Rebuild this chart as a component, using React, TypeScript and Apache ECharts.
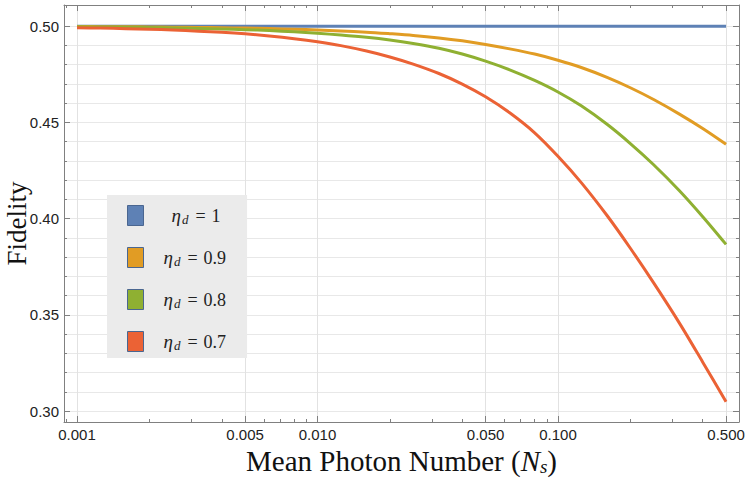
import React, { useEffect, useRef } from "react";
import * as echarts from "echarts";

// Mean photon number N_s (log axis)
const photonNumbers = [0.001, 0.00125, 0.0016, 0.002, 0.0025, 0.0032, 0.004, 0.005, 0.0063, 0.008, 0.01, 0.0125, 0.016, 0.02, 0.025, 0.032, 0.04, 0.05, 0.063, 0.08, 0.1, 0.125, 0.16, 0.2, 0.25, 0.32, 0.4, 0.5];

// Fidelity for each detector efficiency eta_d
const fidelityEta10 = [0.5, 0.5, 0.5, 0.5, 0.5, 0.5, 0.5, 0.5, 0.5, 0.5, 0.5, 0.5, 0.5, 0.5, 0.5, 0.5, 0.5, 0.5, 0.5, 0.5, 0.5, 0.5, 0.5, 0.5, 0.5, 0.5, 0.5, 0.5];
const fidelityEta09 = [0.4998, 0.49975, 0.49968, 0.4996, 0.4995, 0.49936, 0.4992, 0.499, 0.49874, 0.4984, 0.498, 0.4975, 0.4969, 0.4961, 0.4952, 0.4939, 0.4924, 0.4905, 0.4882, 0.4855, 0.4823, 0.4785, 0.4734, 0.468, 0.4619, 0.4543, 0.4468, 0.4386];
const fidelityEta08 = [0.49965, 0.49956, 0.49944, 0.4993, 0.4991, 0.49885, 0.49856, 0.4982, 0.4977, 0.4971, 0.4963, 0.4954, 0.4942, 0.4928, 0.491, 0.4885, 0.4855, 0.4818, 0.4773, 0.4718, 0.4658, 0.4586, 0.449, 0.439, 0.428, 0.4145, 0.401, 0.3866];
const fidelityEta07 = [0.4992, 0.499, 0.4987, 0.4984, 0.498, 0.4974, 0.4968, 0.496, 0.4949, 0.4935, 0.4919, 0.4899, 0.4871, 0.484, 0.4803, 0.4754, 0.4699, 0.4633, 0.455, 0.4446, 0.4324, 0.4187, 0.4016, 0.3846, 0.3666, 0.3457, 0.3254, 0.3048];

const seriesNames = ["η_d = 1", "η_d = 0.9", "η_d = 0.8", "η_d = 0.7"];
const seriesColors = ["#5E81B5", "#E19C24", "#8FB032", "#EB6235"];

// Ticks
const xMajorTicks = [0.001, 0.005, 0.01, 0.05, 0.1, 0.5];
const xMinorTicks = [0.0009, 0.002, 0.003, 0.004, 0.006, 0.007, 0.008, 0.009, 0.02, 0.03, 0.04, 0.06, 0.07, 0.08, 0.09, 0.2, 0.3, 0.4];
const yMajorTicks = [0.3, 0.35, 0.4, 0.45, 0.5];
const yMinorTicks = [0.3, 0.31, 0.32, 0.33, 0.34, 0.35, 0.36, 0.37, 0.38, 0.39, 0.4, 0.41, 0.42, 0.43, 0.44, 0.45, 0.46, 0.47, 0.48, 0.49, 0.5];

const xMin = 0.000883;
const xMax = 0.566;
const yMin = 0.2943;
const yMax = 0.511;

const frameColor = "#808080";
const labelFont = "'Liberation Sans', Arial, sans-serif";
const serifFont = "'Liberation Serif', 'Times New Roman', serif";

export default function App() {
  const ref = useRef<HTMLDivElement>(null);

  useEffect(() => {
    if (!ref.current) return;
    document.body.style.margin = "0";
    const chart = echarts.init(ref.current, undefined, { renderer: "svg" });

    const allSeries = [fidelityEta10, fidelityEta09, fidelityEta08, fidelityEta07];

    const xAxisBase = (position: string) => ({
      type: "log" as const,
      logBase: 10,
      min: xMin,
      max: xMax,
      position,
      axisLine: { show: false },
      axisLabel: { show: false },
      splitLine: { show: false },
      axisPointer: { show: false },
    });
    const yAxisBase = (position: string) => ({
      type: "value" as const,
      min: yMin,
      max: yMax,
      position,
      axisLine: { show: false },
      axisLabel: { show: false },
      splitLine: { show: false },
    });

    const option = {
      animation: false,
      backgroundColor: "#ffffff",
      grid: { left: 64, right: 8, top: 5, bottom: 56, containLabel: false, outerBoundsMode: "none" },
      legend: {
        orient: "vertical",
        left: 107,
        top: 195,
        padding: [10, 21, 6, 20],
        backgroundColor: "#ebebeb",
        itemGap: 21,
        itemWidth: 16,
        itemHeight: 20,
        icon: "rect",
        lineStyle: { width: 0, opacity: 0 },
        itemStyle: { borderColor: "#4a6690", borderWidth: 1 },
        data: seriesNames,
        formatter: (name: string) => {
          const val = name.split("= ")[1];
          const eStyle = val.length === 1 ? "e1" : "e";
          return `{${eStyle}|η}{s|d}{q|=}{t|${val}}`;
        },
        textStyle: {
          color: "#222",
          fontFamily: serifFont,
          fontSize: 18,
          lineHeight: 20,
          rich: {
            e: { fontFamily: serifFont, fontStyle: "italic", fontSize: 19, color: "#222", padding: [0, 0, 0, 15] },
            e1: { fontFamily: serifFont, fontStyle: "italic", fontSize: 19, color: "#222", padding: [0, 0, 0, 23] },
            s: { fontFamily: serifFont, fontStyle: "italic", fontSize: 13, color: "#222", padding: [8, 0, 0, 1] },
            q: { fontFamily: serifFont, fontSize: 18, color: "#222", padding: [0, 6, 0, 7] },
            t: { fontFamily: serifFont, fontSize: 18, color: "#222" },
          },
        },
      },
      xAxis: [
        {
          ...xAxisBase("bottom"),
          axisLine: { show: true, lineStyle: { color: frameColor, width: 1 } },
          axisTick: { show: true, inside: true, length: 6, customValues: xMajorTicks, lineStyle: { color: frameColor } },
          axisLabel: {
            show: true,
            customValues: xMajorTicks,
            formatter: (v: number) => v.toFixed(3),
            margin: 5,
            fontSize: 15,
            fontFamily: labelFont,
            color: "#222",
          },
          splitLine: { show: true, lineStyle: { color: "#e2e2e2", width: 1 } },
          name: "Mean Photon Number ({i|N}{s|s})",
          nameLocation: "middle",
          nameGap: 24,
          nameTextStyle: {
            fontFamily: serifFont,
            fontSize: 29,
            color: "#111",
            rich: {
              i: { fontFamily: serifFont, fontStyle: "italic", fontSize: 29, color: "#111" },
              s: { fontFamily: serifFont, fontStyle: "italic", fontSize: 19, color: "#111", padding: [10, 0, 0, 0] },
            },
          },
        },
        {
          ...xAxisBase("bottom"),
          axisTick: { show: true, inside: true, length: 3, customValues: xMinorTicks, lineStyle: { color: frameColor } },
        },
        {
          ...xAxisBase("top"),
          axisLine: { show: true, lineStyle: { color: frameColor, width: 1 } },
          axisTick: { show: true, inside: true, length: 6, customValues: xMajorTicks, lineStyle: { color: frameColor } },
        },
        {
          ...xAxisBase("top"),
          axisTick: { show: true, inside: true, length: 3, customValues: xMinorTicks, lineStyle: { color: frameColor } },
        },
      ],
      yAxis: [
        {
          ...yAxisBase("left"),
          axisLine: { show: true, lineStyle: { color: frameColor, width: 1 } },
          axisTick: { show: true, inside: true, length: 3, customValues: yMinorTicks, lineStyle: { color: frameColor } },
          axisLabel: {
            show: true,
            customValues: yMajorTicks,
            formatter: (v: number) => v.toFixed(2),
            margin: 5,
            fontSize: 15,
            fontFamily: labelFont,
            color: "#222",
          },
          splitLine: { show: true, lineStyle: { color: "#e8e8e8", width: 1 } },
          name: "Fidelity",
          nameLocation: "middle",
          nameGap: 35,
          nameMoveOverlap: false,
          nameTextStyle: {
            fontFamily: serifFont,
            fontSize: 27,
            lineHeight: 24,
            color: "#111",
            padding: [0, 20, 0, 0],
          },
        },
        {
          ...yAxisBase("left"),
          axisTick: { show: true, inside: true, length: 6, customValues: yMajorTicks, lineStyle: { color: frameColor } },
        },
        {
          ...yAxisBase("right"),
          axisLine: { show: true, lineStyle: { color: frameColor, width: 1 } },
          axisTick: { show: true, inside: true, length: 3, customValues: yMinorTicks, lineStyle: { color: frameColor } },
        },
        {
          ...yAxisBase("right"),
          axisTick: { show: true, inside: true, length: 6, customValues: yMajorTicks, lineStyle: { color: frameColor } },
        },
      ],
      series: allSeries.map((vals, i) => ({
        name: seriesNames[i],
        type: "line",
        xAxisIndex: 0,
        yAxisIndex: 0,
        showSymbol: false,
        symbol: "none",
        smooth: 0.3,
        color: seriesColors[i],
        lineStyle: { color: seriesColors[i], width: 3 },
        itemStyle: { color: seriesColors[i] },
        data: photonNumbers.map((n, j) => [n, vals[j]]),
      })),
    };

    chart.setOption(option as any);
    return () => {
      chart.dispose();
    };
  }, []);

  return <div ref={ref} style={{ width: 747, height: 478 }} />;
}
